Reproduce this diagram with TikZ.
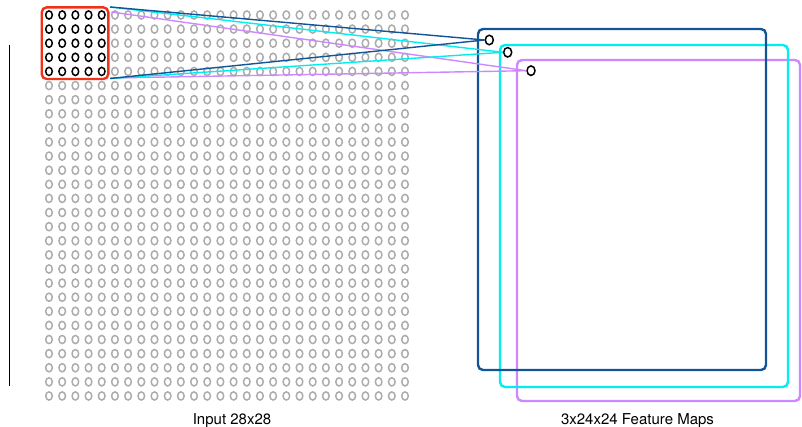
\documentclass[tikz,border=0pt]{standalone}
\usepackage{fontspec}
\setmainfont{TeX Gyre Heros}
\usetikzlibrary{shapes.geometric}
\definecolor{dblue}{RGB}{18,84,150}
\definecolor{cyanc}{RGB}{0,238,240}
\definecolor{violc}{RGB}{206,136,255}
\definecolor{redc}{RGB}{240,50,26}
\definecolor{gridgray}{RGB}{172,172,172}
\begin{document}
\begin{tikzpicture}[x=1pt,y=-1pt,
  frame/.style={line width=2.4pt, rounded corners=5pt},
  conn/.style={line width=1.4pt},
  dot/.style={ellipse, draw=black, line width=1.5pt, minimum width=8pt, minimum height=9.5pt, inner sep=0pt},
  lbl/.style={anchor=base, font=\fontsize{15}{18}\selectfont, inner sep=0pt}]
\useasboundingbox (0,0) rectangle (802,427);
% left vertical line
\draw[line width=0.9pt] (9,45) -- (9,386);
% input grid
\foreach \i in {0,...,27}{
  \foreach \j in {0,...,27}{
    \ifnum\i<5 \ifnum\j<5 \def\cc{black}\else\def\cc{gridgray}\fi\else\def\cc{gridgray}\fi
    \draw[draw=\cc, line width=1.5pt] (49+13.185*\i, 15+14.11*\j) ellipse [x radius=3.3pt, y radius=4.1pt];
  }
}
% receptive field box
\node (rf) [draw=redc, line width=2.4pt, rounded corners=5pt, minimum width=66.6pt, minimum height=71.7pt, inner sep=0pt] at (75,43.2) {};
% feature maps
\draw[frame, violc] (517,60) rectangle (800,401);
\draw[frame, cyanc] (500,45) rectangle (788,387);
\draw[frame, dblue] (478,29) rectangle (766,370);
% target neurons
\node (c1) [dot] at (489.3,40) {};
\node (c2) [dot] at (507.7,52.3) {};
\node (c3) [dot] at (531,70.7) {};
% connector start points
\coordinate (tA) at (110,7);
\coordinate (bA) at (110,78.5);
\coordinate (tV) at (111.5,12);
\coordinate (bV) at (111,78);
\draw[conn, violc] (tV) -- (c3.west);
\draw[conn, violc] (bV) -- (c3.west);
\draw[conn, cyanc] (tA) -- (c2.west);
\draw[conn, cyanc] (bA) -- (c2.west);
\draw[conn, dblue] (tA) -- (c1.west);
\draw[conn, dblue] (bA) -- (c1.west);
% labels
\node (l1) [lbl] at (232,424.3) {Input 28x28};
\node (l2) [lbl] at (637.5,424.3) {3x24x24 Feature Maps};
\end{tikzpicture}
\end{document}
